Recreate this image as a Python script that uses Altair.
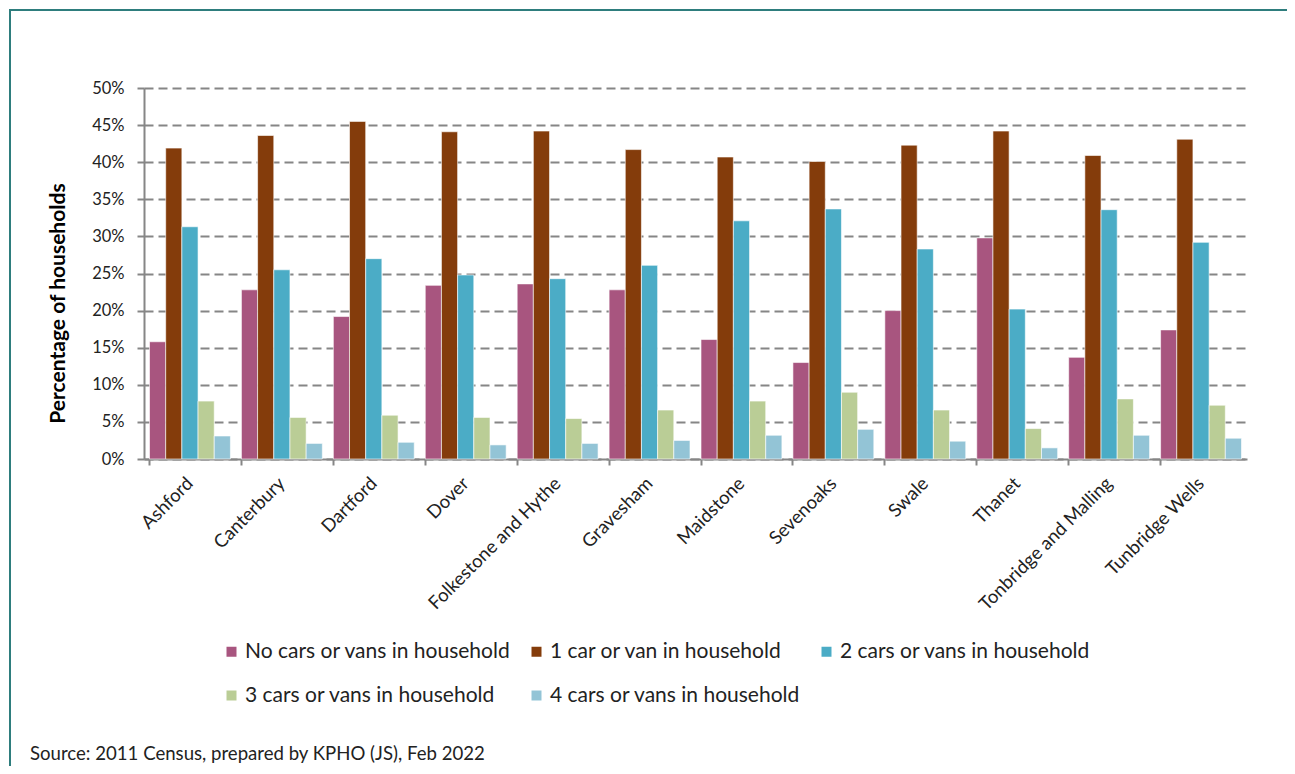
import altair as alt
import pandas as pd

districts = ["Ashford", "Canterbury", "Dartford", "Dover", "Folkestone and Hythe",
             "Gravesham", "Maidstone", "Sevenoaks", "Swale", "Thanet",
             "Tonbridge and Malling", "Tunbridge Wells"]
series = ["No cars or vans in household", "1 car or van in household",
          "2 cars or vans in household", "3 cars or vans in household",
          "4 cars or vans in household"]
no_cars = [15.8, 22.8, 19.2, 23.4, 23.6, 22.8, 16.1, 13.0, 20.0, 29.8, 13.7, 17.4]
one_car = [41.9, 43.6, 45.5, 44.1, 44.2, 41.7, 40.7, 40.1, 42.3, 44.2, 40.9, 43.1]
two_cars = [31.3, 25.5, 27.0, 24.8, 24.3, 26.1, 32.1, 33.7, 28.3, 20.2, 33.6, 29.2]
three_cars = [7.8, 5.6, 5.9, 5.6, 5.45, 6.6, 7.8, 9.0, 6.6, 4.1, 8.1, 7.25]
four_cars = [3.1, 2.1, 2.25, 1.9, 2.1, 2.5, 3.2, 4.0, 2.4, 1.5, 3.2, 2.8]
colors = ["#A8557F", "#843C0B", "#4BACC6", "#BACD96", "#93C4D6"]
source_text = "Source: 2011 Census, prepared by KPHO (JS), Feb 2022"

FONT = "Lato"

rows = []
for s, vals in zip(series, [no_cars, one_car, two_cars, three_cars, four_cars]):
    for d, v in zip(districts, vals):
        rows.append({"district": d, "series": s, "value": v})
df = pd.DataFrame(rows)

W, H = 1103, 371

bars = alt.Chart(df).mark_bar(stroke="white", strokeWidth=0.6).encode(
    x=alt.X("district:N", sort=districts,
            scale=alt.Scale(paddingInner=0.12, paddingOuter=0.06),
            axis=alt.Axis(title=None, labelAngle=-45, labelAlign="right",
                          labelBaseline="middle", labelFont=FONT, labelFontSize=18.5,
                          labelColor="#222222", labelPadding=15,
                          bandPosition=0, tickSize=6, tickColor="#868686",
                          domainColor="#868686", domainWidth=2, tickWidth=2,
                          labelLimit=300, grid=False)),
    xOffset=alt.XOffset("series:N", sort=series),
    y=alt.Y("value:Q", scale=alt.Scale(domain=[0, 50], nice=False),
            axis=alt.Axis(title="Percentage of households", values=list(range(0, 51, 5)),
                          labelExpr="datum.value + '%'",
                          labelFont=FONT, labelFontSize=16.5, labelColor="#222222",
                          titleFont=FONT, titleFontSize=21, titleFontWeight="bold",
                          titleColor="#000000", titleX=-76, titleY=215,
                          tickSize=7, tickColor="#868686", tickWidth=2,
                          domainColor="#868686", domainWidth=2, labelPadding=13,
                          grid=True, gridColor="#868686", gridDash=[9, 5],
                          gridWidth=2)),
    color=alt.Color("series:N", sort=series,
                    scale=alt.Scale(domain=series, range=colors),
                    legend=alt.Legend(title=None, orient="none", legendX=77,
                                      legendY=553, columns=3, direction="horizontal",
                                      symbolType="square",
                                      symbolSize=100, symbolStrokeWidth=0,
                                      labelFont=FONT, labelFontSize=21,
                                      labelColor="#222222", columnPadding=15,
                                      rowPadding=22, labelLimit=400,
                                      labelOffset=3)),
)

src = alt.Chart(pd.DataFrame({"t": [source_text]})).mark_text(
    align="left", baseline="alphabetic", font=FONT, fontSize=18.6, color="#222222"
).encode(x=alt.value(-114), y=alt.value(672), text="t:N")

border = alt.Chart(pd.DataFrame({"a": [0]})).mark_rect(
    fill=None, stroke="#2E7D7D", strokeWidth=2
).encode(x=alt.value(-134), x2=alt.value(1300), y=alt.value(-78), y2=alt.value(800))

chart = alt.layer(border, bars, src).properties(
    width=W, height=H,
    autosize=alt.AutoSizeParams(type="none"),
    padding={"left": 136, "top": 80, "right": 40, "bottom": 307},
).configure_view(stroke=None)

chart.save("out.html", embed_options={"renderer": "svg", "actions": False})
